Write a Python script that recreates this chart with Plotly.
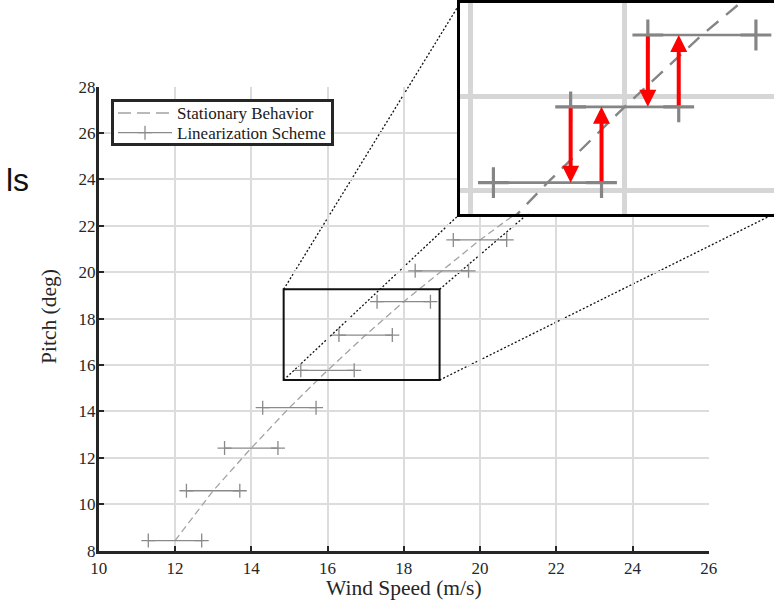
import plotly.graph_objects as go

# Linear models: one horizontal band per operating point
wind_speed = [12, 13, 14, 15, 16, 17, 18, 19, 20]
pitch = [8.43, 10.58, 12.42, 14.16, 15.77, 17.29, 18.73, 20.06, 21.39]
band_half_width = 0.7

# Stationary pitch curve
stat_wind = [12, 13, 14, 15, 16, 17, 18, 19, 20, 21, 22, 23, 24, 25]
stat_pitch = [8.43, 10.58, 12.42, 14.16, 15.77, 17.29, 18.73, 20.06, 21.39,
              22.6, 23.75, 24.85, 25.9, 26.9]

# Switching between neighbouring models shown in the zoom (lower, upper)
switch_pairs = [(4, 5), (5, 6)]

x_ticks = [10, 12, 14, 16, 18, 20, 22, 24, 26]
y_ticks = [8, 10, 12, 14, 16, 18, 20, 22, 24, 26, 28]
legend_labels = ["Stationary Behavior", "Linearization Scheme"]

# layout positions are given in figure pixels and converted to paper units
FW, FH = 774, 606
SERIF = "Liberation Serif"
AX_COL = "#262626"
STAT_COL = "#a3a3a3"
SEG_COL = "#8a8a8a"


def px(X):
    return X / FW


def py(Y):
    return 1 - Y / FH


MAIN_DOM_X = [px(98.75), px(708.75)]
MAIN_DOM_Y = [py(550.6), py(86.6)]
X_RANGE = [10, 26]
Y_RANGE = [8, 28]

INSET_DOM_X = [px(460), 1.0]
INSET_DOM_Y = [py(213.9), py(3.2)]
ZOOM_X = [14.85, 18.94]
ZOOM_Y = [15.35, 19.26]
INSET_X = [14.867, 18.934]
INSET_Y = [15.145, 19.367]

# legend panel, laid out in figure pixels
LEG_X = [113.5, 330.5]
LEG_Y = [101.5, 143.3]
LEG_ROWS = [113.0, 132.7]
LEG_SAMPLE = [118.0, 172.0]
LEG_TEXT_X = 175.0


def to_paper(v, rng, dom):
    return dom[0] + (v - rng[0]) / (rng[1] - rng[0]) * (dom[1] - dom[0])


seg_x, seg_y = [], []
for w, p in zip(wind_speed, pitch):
    seg_x += [w - band_half_width, w + band_half_width, None]
    seg_y += [p, p, None]

fig = go.Figure()

# main axes
fig.add_trace(go.Scatter(
    x=stat_wind, y=stat_pitch, mode="lines", name=legend_labels[0],
    line=dict(color=STAT_COL, width=1.3, dash="7px,4px"),
    xaxis="x", yaxis="y", showlegend=False))
fig.add_trace(go.Scatter(
    x=seg_x, y=seg_y, mode="lines+markers", name=legend_labels[1],
    line=dict(color=SEG_COL, width=1.3),
    marker=dict(symbol="cross-thin", size=10,
                line=dict(color=SEG_COL, width=1.3)),
    xaxis="x", yaxis="y", showlegend=False))

# zoomed axes
fig.add_trace(go.Scatter(
    x=stat_wind, y=stat_pitch, mode="lines", showlegend=False,
    line=dict(color="#858585", width=2.4, dash="15px,10px"),
    xaxis="x2", yaxis="y2"))
fig.add_trace(go.Scatter(
    x=seg_x, y=seg_y, mode="lines+markers", showlegend=False,
    line=dict(color="#858585", width=2.7),
    marker=dict(symbol="cross-thin", size=22,
                line=dict(color="#858585", width=3.2)),
    xaxis="x2", yaxis="y2"))

# legend panel samples
fig.add_trace(go.Scatter(
    x=LEG_SAMPLE, y=[LEG_ROWS[0]] * 2, mode="lines", showlegend=False,
    line=dict(color=STAT_COL, width=1.3, dash="13px,6px"),
    xaxis="x3", yaxis="y3", hoverinfo="skip"))
fig.add_trace(go.Scatter(
    x=LEG_SAMPLE, y=[LEG_ROWS[1]] * 2, mode="lines", showlegend=False,
    line=dict(color=SEG_COL, width=1.3),
    xaxis="x3", yaxis="y3", hoverinfo="skip"))
fig.add_trace(go.Scatter(
    x=[sum(LEG_SAMPLE) / 2], y=[LEG_ROWS[1]], mode="markers",
    showlegend=False,
    marker=dict(symbol="cross-thin", size=10,
                line=dict(color=SEG_COL, width=1.3)),
    xaxis="x3", yaxis="y3", hoverinfo="skip"))

annotations = []
for lo, hi in switch_pairs:
    # step down at the left edge of the upper band
    xd = wind_speed[hi] - band_half_width
    annotations.append(dict(
        x=xd, y=pitch[lo], ax=xd, ay=pitch[hi],
        xref="x2", yref="y2", axref="x2", ayref="y2", text="",
        showarrow=True, arrowhead=2, arrowsize=0.85, arrowwidth=4,
        arrowcolor="#ff0000", standoff=0, startstandoff=0))
    # step up at the right edge of the lower band
    xu = wind_speed[lo] + band_half_width
    annotations.append(dict(
        x=xu, y=pitch[hi], ax=xu, ay=pitch[lo],
        xref="x2", yref="y2", axref="x2", ayref="y2", text="",
        showarrow=True, arrowhead=2, arrowsize=0.85, arrowwidth=4,
        arrowcolor="#ff0000", standoff=0, startstandoff=0))

for label, row in zip(legend_labels, LEG_ROWS):
    annotations.append(dict(
        text=label, x=px(LEG_TEXT_X), y=py(row + 0.5), xref="paper",
        yref="paper", showarrow=False, xanchor="left", yanchor="middle",
        font=dict(family=SERIF, size=17, color="#1a1a1a")))

annotations += [
    dict(text="Wind Speed (m/s)", x=px(404), y=py(588), xref="paper",
         yref="paper", showarrow=False, xanchor="center", yanchor="middle",
         font=dict(family=SERIF, size=21.5, color=AX_COL)),
    dict(text="Pitch (deg)", x=px(49), y=py(317), xref="paper",
         yref="paper", showarrow=False, xanchor="center", yanchor="middle",
         textangle=-90, font=dict(family=SERIF, size=21.5, color=AX_COL)),
    dict(text="ls", x=px(4), y=py(180), xref="paper", yref="paper",
         showarrow=False, xanchor="left", yanchor="middle",
         font=dict(family="Liberation Sans", size=32, color="#111111")),
]

# zoom window and its connectors to the inset
rx0 = to_paper(ZOOM_X[0], X_RANGE, MAIN_DOM_X)
rx1 = to_paper(ZOOM_X[1], X_RANGE, MAIN_DOM_X)
ry0 = to_paper(ZOOM_Y[0], Y_RANGE, MAIN_DOM_Y)
ry1 = to_paper(ZOOM_Y[1], Y_RANGE, MAIN_DOM_Y)
ix0, ix1 = INSET_DOM_X
iy0, iy1 = INSET_DOM_Y

shapes = [dict(type="rect", xref="x", yref="y", x0=ZOOM_X[0], x1=ZOOM_X[1],
               y0=ZOOM_Y[0], y1=ZOOM_Y[1],
               line=dict(color="#111111", width=2), layer="above")]
for (ax0, ay0, bx0, by0) in [(rx0, ry1, ix0, iy1), (rx0, ry0, ix0, iy0),
                             (rx1, ry1, ix1, iy1), (rx1, ry0, ix1, iy0)]:
    shapes.append(dict(type="line", xref="paper", yref="paper",
                       x0=ax0, y0=ay0, x1=bx0, y1=by0, layer="below",
                       line=dict(color="#111111", width=1.3, dash="2px,2px")))

tick_font = dict(family=SERIF, size=17, color=AX_COL)
hidden = dict(showticklabels=False, ticks="", showgrid=False, zeroline=False)
fig.update_layout(
    width=FW, height=FH, autosize=False,
    margin=dict(l=0, r=0, t=0, b=0, pad=0, autoexpand=False),
    paper_bgcolor="white", plot_bgcolor="white", showlegend=False,
    xaxis=dict(domain=MAIN_DOM_X, range=X_RANGE, tickvals=x_ticks,
               anchor="y", showgrid=True, gridcolor="#dcdcdc", gridwidth=2,
               zeroline=False, showline=True, linecolor=AX_COL, linewidth=2.5,
               ticks="inside", ticklen=5, tickwidth=2, tickcolor=AX_COL,
               tickfont=tick_font),
    yaxis=dict(domain=MAIN_DOM_Y, range=Y_RANGE, tickvals=y_ticks,
               anchor="x", showgrid=True, gridcolor="#dcdcdc", gridwidth=2,
               zeroline=False, showline=True, linecolor=AX_COL, linewidth=2.5,
               ticks="inside", ticklen=5, tickwidth=2, tickcolor=AX_COL,
               tickfont=tick_font, ticklabelstandoff=-3),
    xaxis2=dict(domain=INSET_DOM_X, range=INSET_X, anchor="y2",
                tickvals=[15, 17], showticklabels=False, ticks="",
                showgrid=True, gridcolor="#d6d6d6", gridwidth=4.5,
                zeroline=False, showline=True, mirror=True,
                linecolor="black", linewidth=3.3),
    yaxis2=dict(domain=INSET_DOM_Y, range=INSET_Y, anchor="x2",
                tickvals=[15.61, 17.49], showticklabels=False, ticks="",
                showgrid=True, gridcolor="#d6d6d6", gridwidth=4.5,
                zeroline=False, showline=True, mirror=False,
                linecolor="black", linewidth=3.3),
    xaxis3=dict(domain=[px(LEG_X[0]), px(LEG_X[1])], range=LEG_X,
                anchor="y3", showline=True, mirror=True, linecolor=AX_COL,
                linewidth=2.5, **hidden),
    yaxis3=dict(domain=[py(LEG_Y[1]), py(LEG_Y[0])],
                range=[LEG_Y[1], LEG_Y[0]], anchor="x3", showline=True,
                mirror=True, linecolor=AX_COL, linewidth=2.5, **hidden),
    annotations=annotations,
    shapes=shapes,
)

fig.write_html("out.html")
